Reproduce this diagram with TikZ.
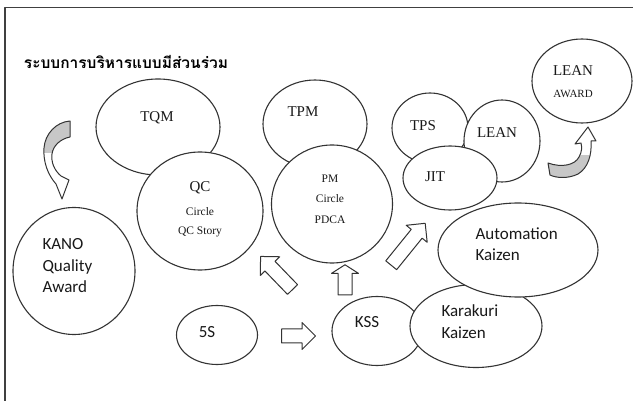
\documentclass[tikz,border=0pt]{standalone}
\usepackage{fontspec}
\setmainfont{Liberation Serif}
\newfontfamily\calibri{Carlito}
\newfontfamily\thaifont[Script=Thai]{Loma}
\usetikzlibrary{shapes.geometric,shapes.arrows}

\begin{document}
\begin{tikzpicture}[x=1pt,y=-1pt,line join=round]
  \tikzset{bubble/.style={ellipse, draw=black!80, fill=white, line width=1.1pt, inner sep=0pt},
           blk/.style={single arrow, draw=black!80, fill=white, line width=1pt, inner xsep=0pt, inner ysep=6.5pt, single arrow head extend=6.5pt},
           ser/.style={font=\fontsize{15}{18}\selectfont, text=black!90},
           sml/.style={font=\fontsize{11.5}{14}\selectfont, text=black!90},
           san/.style={font=\calibri\fontsize{17}{21.5}\selectfont, align=left, text=black!90}}
  \useasboundingbox (0,0) rectangle (633,401);
  \draw[line width=1.5pt, black!75] (5,410) -- (5,7.5) -- (640,7.5);
  \node[font=\thaifont\bfseries\fontsize{15.5}{18}\selectfont] (title) at (126,62) {ระบบการบริหารแบบมีส่วนร่วม};

  \node[bubble, minimum width=124pt, minimum height=96pt] (tqm) at (158,127) {};
  \node[bubble, minimum width=126pt, minimum height=118pt] (qc) at (200,211) {};
  \node[bubble, minimum width=104pt, minimum height=88pt] (tpm) at (315,124) {};
  \node[bubble, minimum width=121pt, minimum height=118pt] (pm) at (332,204) {};
  \node[bubble, minimum width=76pt, minimum height=70pt] (tps) at (430,128) {};
  \node[bubble, minimum width=76pt, minimum height=82pt] (lean) at (502,141) {};
  \node[bubble, minimum width=94pt, minimum height=64pt] (jit) at (450,178) {};
  \node[bubble, minimum width=100pt, minimum height=84pt] (award) at (582,81) {};
  \node[bubble, minimum width=122pt, minimum height=127pt] (kano) at (74,271) {};
  \node[bubble, minimum width=81pt, minimum height=59pt] (fives) at (217,335) {};
  \node[bubble, minimum width=90pt, minimum height=69pt] (kss) at (377,331) {};
  \node[bubble, minimum width=132pt, minimum height=83pt] (kara) at (476,326) {};
  \node[bubble, minimum width=160pt, minimum height=94pt] (auto) at (518,250) {};

  \node[ser] (tqmtxt) at (157,118) {TQM};
  \node[ser] (qctxt) at (200,188) {QC};
  \node[sml] (qccirc) at (200,212) {Circle};
  \node[sml] (qcstory) at (200,232) {QC Story};
  \node[ser] (tpmtxt) at (303,112) {TPM};
  \node[sml] (pmtxt) at (330,179) {PM};
  \node[sml] (pmcirc) at (330,199) {Circle};
  \node[sml] (pdca) at (330,220) {PDCA};
  \node[ser] (tpstxt) at (423,126) {TPS};
  \node[ser] (leantxt) at (497,133) {LEAN};
  \node[ser] (jittxt) at (435,177) {JIT};
  \node[ser] (awardtop) at (573,71) {LEAN};
  \node[font=\fontsize{11}{13}\selectfont, text=black!90] (awardbot) at (573,94) {AWARD};
  \node[san, anchor=west] (kanotxt) at (39,266) {KANO\\Quality\\Award};
  \node[san] (fivestxt) at (207,332) {5S};
  \node[san] (ksstxt) at (367,322) {KSS};
  \node[san, anchor=west] (autotxt) at (472,244) {Automation\\Kaizen};
  \node[san, anchor=west] (karatxt) at (438,321.5) {Karakuri\\Kaizen};

  \node[blk, minimum height=34pt] (a1) at (295,336) {};
  \node[blk, minimum height=30pt, rotate=90, single arrow tip angle=115] (a2) at (345,282) {};
  \node[blk, minimum height=46pt, rotate=134] (a3) at (279,275.5) {};
  \node[blk, minimum height=54pt, rotate=51] (a4) at (406,247) {};

  \begin{scope}
    \clip (30,115) rectangle (80,153);
    \fill[black!22] (70,121) .. controls (56,122) and (45,134) .. (44,148) .. controls (43,162) and (48,175) .. (56,184) -- (62,199) -- (69,180) -- (61,176) .. controls (54,170) and (51,162) .. (52,154) .. controls (53,146) and (60,139) .. (70,137) -- cycle;
  \end{scope}
  \draw[black!80, line width=1pt] (70,121) .. controls (56,122) and (45,134) .. (44,148) .. controls (43,162) and (48,175) .. (56,184) -- (62,199) -- (69,180) -- (61,176) .. controls (54,170) and (51,162) .. (52,154) .. controls (53,146) and (60,139) .. (70,137) -- cycle;

  \begin{scope}
    \clip (540,156) rectangle (600,185);
    \fill[black!22] (548,163) .. controls (562,168) and (575,165) .. (579,157) .. controls (582,152) and (582,147) .. (581,143) -- (575,144) -- (588,127) -- (596,141) -- (591,141) .. controls (592,155) and (588,168) .. (578,174) .. controls (568,179) and (556,178) .. (550,175) -- cycle;
  \end{scope}
  \draw[black!80, line width=1pt] (548,163) .. controls (562,168) and (575,165) .. (579,157) .. controls (582,152) and (582,147) .. (581,143) -- (575,144) -- (588,127) -- (596,141) -- (591,141) .. controls (592,155) and (588,168) .. (578,174) .. controls (568,179) and (556,178) .. (550,175) -- cycle;
\end{tikzpicture}
\end{document}
